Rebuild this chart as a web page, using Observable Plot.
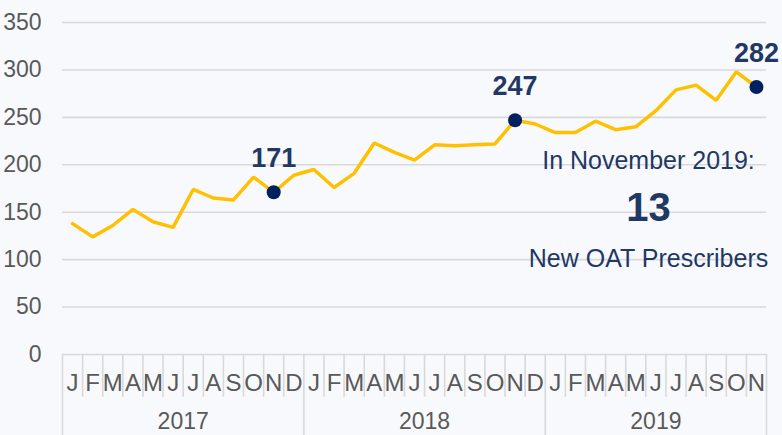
<!DOCTYPE html>
<html>
<head>
<meta charset="utf-8">
<script src="https://cdn.jsdelivr.net/npm/d3@7"></script>
<script src="https://cdn.jsdelivr.net/npm/@observablehq/plot@0.6"></script>
<style>
  html, body { margin: 0; padding: 0; background: #f8f9fd; }
  #chart svg { display: block; background: #f8f9fd; }
</style>
</head>
<body>
<div id="chart"></div>
<script>
const monthLetters = ["J","F","M","A","M","J","J","A","S","O","N","D"];
const years = ["2017", "2018", "2019"];
const values2017 = [138, 124, 136, 153, 140, 134, 174, 165, 163, 187, 171, 189];
const values2018 = [195, 176, 191, 223, 213, 205, 221, 220, 221, 222, 247, 243];
const values2019 = [234, 234, 246, 237, 240, 257, 279, 284, 268, 298, 282];
const highlightIndex = [10, 22, 34];
const yTicks = [0, 50, 100, 150, 200, 250, 300, 350];
const noteLines = ["In November 2019:", "13", "New OAT Prescribers"];

const allValues = [...values2017, ...values2018, ...values2019];
const series = allValues.map((v, i) => ({i, pos: i + 0.5, value: v, month: monthLetters[i % 12]}));
const highlights = highlightIndex.map(i => series[i]);
const nMonths = series.length;
const yearStarts = [0, 12, 24, nMonths];
const yearCenters = years.map((y, k) => (yearStarts[k] + yearStarts[k + 1]) / 2);
const monthBounds = d3.range(1, nMonths).filter(b => !yearStarts.includes(b));

const navy = "#1f3864";
const dot = "#002060";
const grid = "#d9d9d9";
const gray = "#595959";
const font = "Liberation Sans, Arial, sans-serif";

const plot = Plot.plot({
  width: 782,
  height: 435,
  marginLeft: 62,
  marginRight: 16,
  marginTop: 22,
  marginBottom: 81,
  style: {background: "#f8f9fd", fontFamily: font, overflow: "visible"},
  x: {domain: [0, nMonths]},
  y: {domain: [0, 350]},
  marks: [
    Plot.ruleY(yTicks, {stroke: grid, strokeWidth: 1.6}),
    Plot.ruleX(monthBounds, {y1: 0, y2: -45, stroke: grid, strokeWidth: 1.6}),
    Plot.ruleX(yearStarts, {y1: 0, y2: -95, stroke: grid, strokeWidth: 1.6}),
    Plot.axisY({ticks: yTicks, tickSize: 0, tickPadding: 21, fontSize: 23, color: gray, label: null}),
    Plot.axisX({ticks: series.map(d => d.pos), tickFormat: d => monthLetters[Math.floor(d) % 12],
      tickSize: 0, tickPadding: 19, fontSize: 24, color: gray, label: null}),
    Plot.axisX({ticks: yearCenters, tickFormat: (d, k) => years[k],
      tickSize: 0, tickPadding: 58, fontSize: 23, color: gray, label: null}),
    Plot.line(series, {x: "pos", y: "value", stroke: "#ffc000", strokeWidth: 3.5, strokeLinejoin: "miter"}),
    Plot.dot(highlights, {x: "pos", y: "value", r: 7, fill: dot, stroke: "none"}),
    Plot.text(highlights, {x: "pos", y: "value", text: d => String(d.value), lineAnchor: "bottom",
      dy: -25, fontSize: 27, fontWeight: "bold", fill: navy}),
    Plot.text([noteLines[0]], {frameAnchor: "top-right", dx: -118, dy: 146, lineAnchor: "bottom",
      textAnchor: "middle", fontSize: 25, fill: navy}),
    Plot.text([noteLines[1]], {frameAnchor: "top-right", dx: -118, dy: 198, lineAnchor: "bottom",
      textAnchor: "middle", fontSize: 40, fontWeight: "bold", fill: navy}),
    Plot.text([noteLines[2]], {frameAnchor: "top-right", dx: -118, dy: 244, lineAnchor: "bottom",
      textAnchor: "middle", fontSize: 25, fill: navy})
  ]
});
document.getElementById("chart").appendChild(plot);
</script>
</body>
</html>
